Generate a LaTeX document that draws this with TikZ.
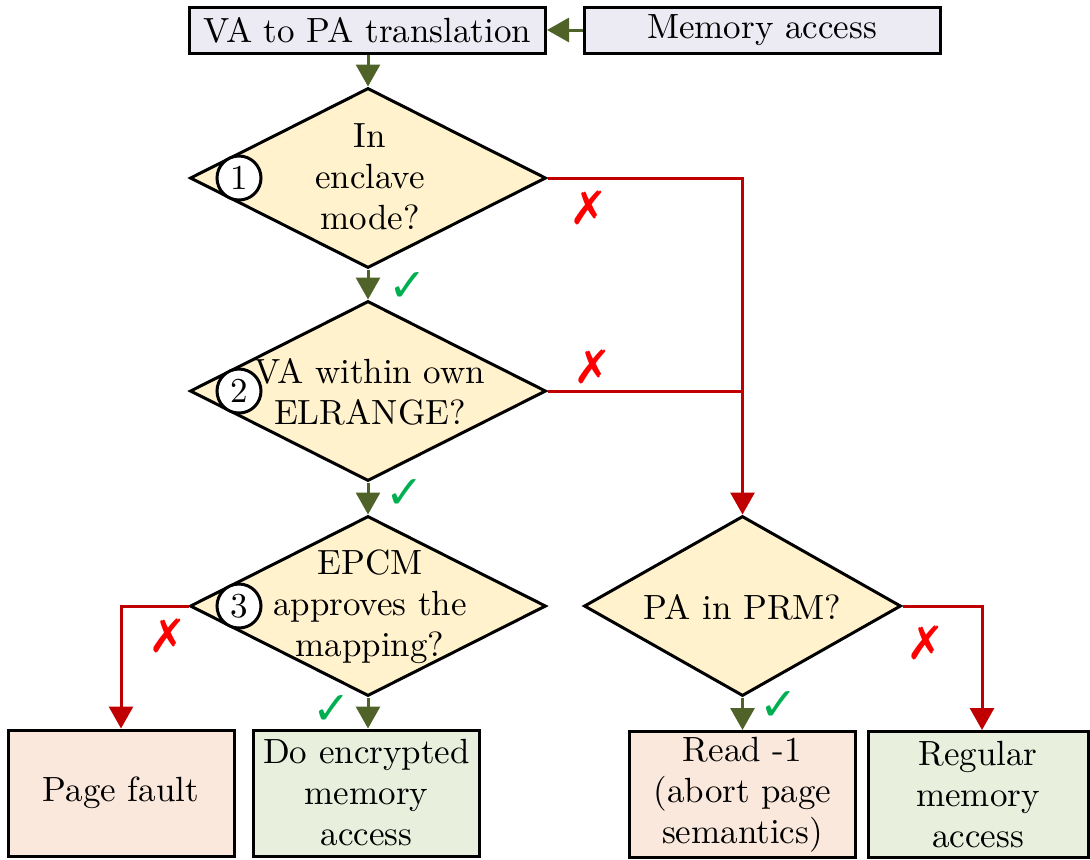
\documentclass[tikz,border=0pt]{standalone}
\usepackage{fontspec}
\setmainfont{lmroman10-regular}[Extension=.otf]
\newfontfamily\symfont{DejaVu Sans Bold}
\usetikzlibrary{shapes.geometric,arrows.meta}

\definecolor{okgreen}{HTML}{4F6228}
\definecolor{nored}{HTML}{C00000}
\definecolor{crossred}{HTML}{FF0000}
\definecolor{tickgreen}{HTML}{00B050}
\definecolor{topfill}{HTML}{ECEAF2}
\definecolor{decfill}{HTML}{FFF2CC}
\definecolor{badfill}{HTML}{FBE8DC}
\definecolor{goodfill}{HTML}{E8EFDD}

\tikzset{
  box/.style={draw=black, line width=1.5pt, rectangle, inner sep=0pt, align=center},
  topbox/.style={box, fill=topfill, minimum width=178pt, minimum height=23pt},
  endbox/.style={box, minimum width=113pt, minimum height=63pt},
  decision/.style={draw=black, line width=1.5pt, diamond, fill=decfill, inner sep=0pt,
    minimum width=178pt, minimum height=90pt},
  dtext/.style={align=center, inner sep=0pt},
  numcirc/.style={circle, draw=black, line width=1.5pt, fill=white, inner sep=0pt, minimum size=22pt},
  yesarrow/.style={draw=okgreen, line width=1.5pt, -{Triangle[width=12pt,length=11pt]}},
  noarrow/.style={draw=nored, line width=1.5pt, -{Triangle[width=12pt,length=11pt]}},
  noline/.style={draw=nored, line width=1.5pt},
  tick/.style={text=tickgreen, font=\symfont\fontsize{23}{23}\selectfont, inner sep=0pt},
  cross/.style={text=crossred, font=\symfont\fontsize{23}{23}\selectfont, inner sep=0pt},
}

\begin{document}
\begin{tikzpicture}[x=0.5pt, y=-0.5pt, font=\fontsize{17.5}{20.5}\selectfont]
\useasboundingbox (0,0) rectangle (1090,859);

% top row
\node[topbox] (va)  at (367.5,30) {VA to PA translation};
\node[topbox] (mem) at (762,30)   {Memory access};

% decisions
\node[decision] (d1) at (368,178) {};
\node[dtext] (t1) at (370,177) {In\\enclave\\mode?};
\node[numcirc] (c1) at (239,178) {1};

\node[decision] (d2) at (368,391) {};
\node[dtext] (t2) at (370,392) {VA within own\\ELRANGE?};
\node[numcirc] (c2) at (239,391) {2};

\node[decision] (d3) at (368,606) {};
\node[dtext] (t3) at (370,607) {EPCM\\approves the\\mapping?};
\node[numcirc] (c3) at (239,606) {3};

\node[decision, minimum width=158.5pt] (d4) at (742.5,606) {};
\node[dtext] (t4) at (742.5,607) {PA in PRM?};

% outcomes
\node[endbox, fill=badfill]  (pf)  at (121,793)   {Page fault};
\node[endbox, fill=goodfill] (enc) at (366.5,793) {Do encrypted\\memory\\access};
\node[endbox, fill=badfill]  (rd)  at (742.5,794.5) {Read -1\\(abort page\\semantics)};
\node[endbox, fill=goodfill, minimum width=110pt] (reg) at (978,794.5) {Regular\\memory\\access};

% connectors
\draw[yesarrow] (mem.west) -- (va.east);
\draw[yesarrow] (va.south -| d1.north) -- (d1.north);
\draw[yesarrow] (d1.south) -- (d2.north);
\draw[yesarrow] (d2.south) -- (d3.north);
\draw[yesarrow] (d3.south) -- (d3.south |- enc.north);
\draw[yesarrow] (d4.south) -- (rd.north);

\draw[noarrow] (d1.east) -| (d4.north);
\draw[noline]  (d2.east) -- (d2.east -| d4.north);
\draw[noarrow] (d3.west) -| (pf.north);
\draw[noarrow] (d4.east) -| ([xshift=2pt]reg.north);

% yes / no marks
\node[tick] (k1) at (408,287) {✓};
\node[tick] (k2) at (405,494) {✓};
\node[tick] (k3) at (332,710) {✓};
\node[tick] (k4) at (779,706) {✓};
\node[cross] (x1) at (589,208) {✗};
\node[cross] (x2) at (593,367) {✗};
\node[cross] (x3) at (168,636) {✗};
\node[cross] (x4) at (926,643) {✗};
\end{tikzpicture}
\end{document}
